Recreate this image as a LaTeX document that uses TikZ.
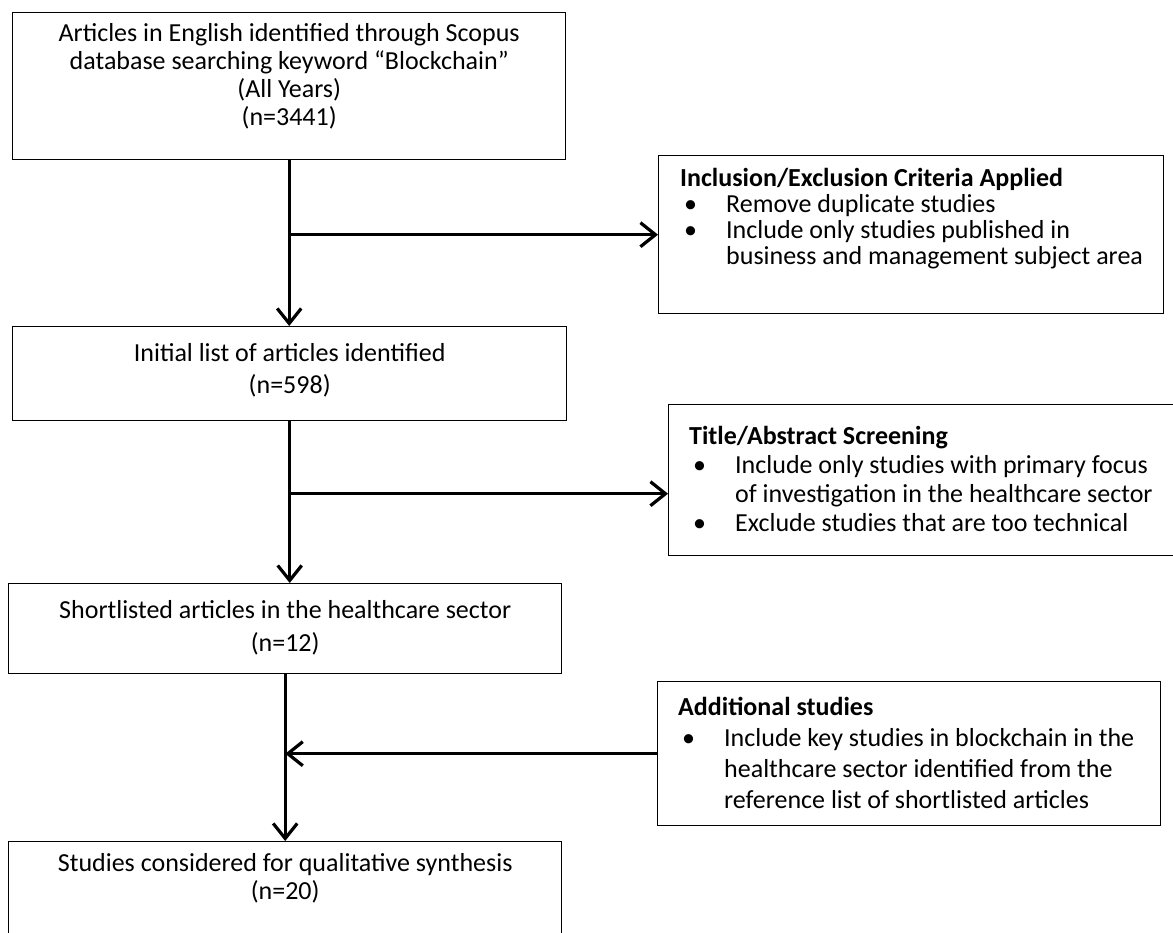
\documentclass[tikz,border=0pt]{standalone}
\usepackage{fontspec}
\setmainfont{Carlito}
\usetikzlibrary{arrows.meta}
\newcommand{\bl}{\makebox[46pt][l]{\hspace{4pt}\textbullet}}
\newcommand{\indt}{\hspace*{46pt}}
\begin{document}
\begin{tikzpicture}[x=1pt,y=-1pt,
  box/.style={draw, line width=1.4pt, inner sep=0pt, anchor=north west},
  ctxt/.style={align=center, anchor=north, inner sep=0pt},
  rtxt/.style={align=left, anchor=north west, inner sep=0pt},
  conn/.style={line width=3.2pt, -{Straight Barb[length=15pt,width=24pt,line width=3.2pt]}}
]
\useasboundingbox (0,0) rectangle (1173,933);
% left boxes
\node[box, minimum width=553pt, minimum height=147pt] (b1) at (12,12) {};
\node[ctxt, font=\fontsize{26}{28}\selectfont] (t1) at (b1.north |- 0,21.4)
  {\strut Articles in English identified through Scopus\\database searching keyword “Blockchain”\\(All Years)\\(n=3441)};
\node[box, minimum width=554pt, minimum height=94pt] (b2) at (12,326) {};
\node[ctxt, font=\fontsize{26}{32}\selectfont] (t2) at (b2.north |- 0,338.6)
  {\strut Initial list of articles identified\\(n=598)};
\node[box, minimum width=553pt, minimum height=90pt] (b3) at (8,583) {};
\node[ctxt, font=\fontsize{26}{33}\selectfont] (t3) at (b3.north |- 0,594.9)
  {\strut Shortlisted articles in the healthcare sector\\(n=12)};
\node[box, minimum width=553pt, minimum height=100pt] (b4) at (8,841) {};
\node[ctxt, font=\fontsize{26}{27}\selectfont] (t4) at (b4.north |- 0,852)
  {\strut Studies considered for qualitative synthesis\\(n=20)};
% right boxes
\node[box, minimum width=505pt, minimum height=158pt] (A) at (658,155) {};
\node[rtxt, font=\fontsize{26}{26}\selectfont] (tA) at (680,167.8)
  {\strut\textbf{Inclusion/Exclusion Criteria Applied}\\
   \bl Remove duplicate studies\\
   \bl Include only studies published in\\
   \indt business and management subject area};
\node[box, minimum width=506pt, minimum height=151pt] (B) at (668,404) {};
\node[rtxt, font=\fontsize{26}{29}\selectfont] (tB) at (689,423.7)
  {\strut\textbf{Title/Abstract Screening}\\
   \bl Include only studies with primary focus\\
   \indt of investigation in the healthcare sector\\
   \bl Exclude studies that are too technical};
\node[box, minimum width=503pt, minimum height=144pt] (C) at (657,681) {};
\node[rtxt, font=\fontsize{26}{31}\selectfont] (tC) at (678,693.6)
  {\strut\textbf{Additional studies}\\
   \bl Include key studies in blockchain in the\\
   \indt healthcare sector identified from the\\
   \indt reference list of shortlisted articles};
% connectors
\draw[conn] (b1.south) -- (b1.south |- b2.north);
\draw[conn] (b1.south |- A.west) -- (A.west);
\draw[conn] (b2.south) -- (b2.south |- b3.north);
\draw[conn] ([yshift=-13.5pt]B.west -| b2.south) -- ([yshift=-13.5pt]B.west);
\draw[conn] (b3.south) -- (b3.south |- b4.north);
\draw[conn] (C.west) -- (C.west -| b3.south);
\end{tikzpicture}
\end{document}
